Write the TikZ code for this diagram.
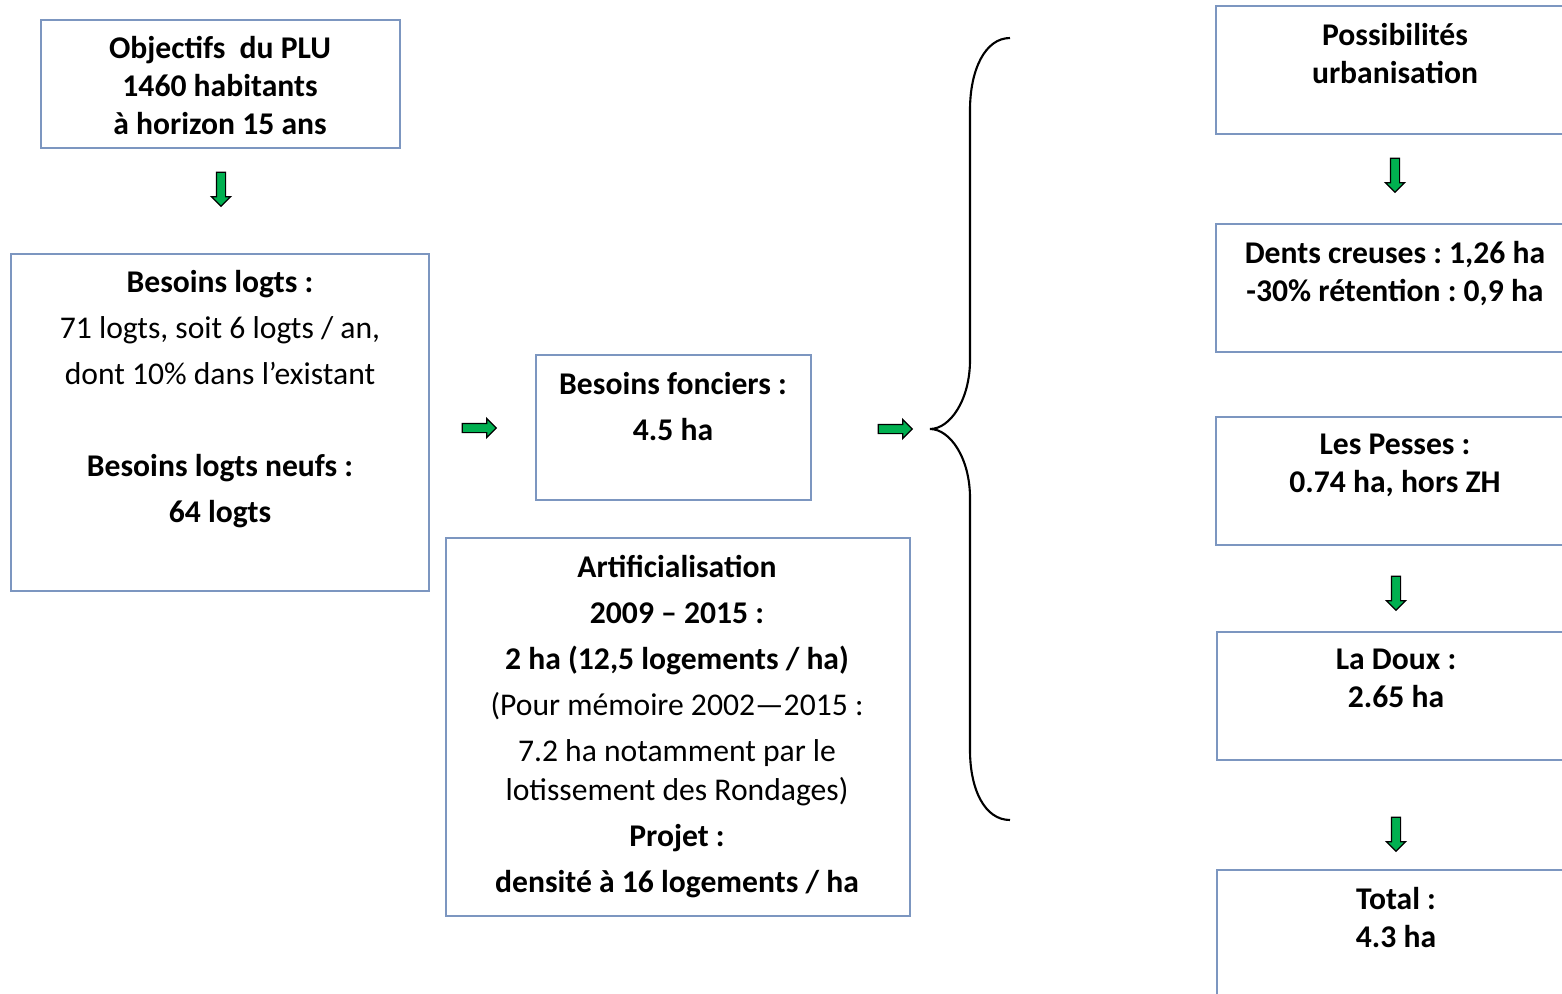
\documentclass[tikz,border=0pt]{standalone}
\usepackage{fontspec}
\setmainfont{Carlito}
\frenchspacing
\usetikzlibrary{shapes.arrows}
\definecolor{boxblue}{RGB}{124,150,192}
\definecolor{arrowgreen}{RGB}{0,176,80}
\tikzset{
  box/.style={draw=boxblue, line width=1.1pt},
  tight/.style={anchor=north, inner sep=0pt, align=center, font=\fontsize{18}{21.6}\selectfont},
  loose/.style={anchor=north, inner sep=0pt, align=center, font=\fontsize{18}{26.2}\selectfont},
  greenarrow/.style={single arrow, draw=black, fill=arrowgreen, line width=0.7pt,
    minimum height=0.68cm, inner xsep=0pt, inner ysep=0.08cm,
    single arrow head extend=0.1cm},
}
\begin{document}
\begin{tikzpicture}[x=0.02cm, y=-0.02cm]
				\useasboundingbox (0,0) rectangle (1562,994);
				\clip (0,0) rectangle (1562,994);

				% Left column
				\draw[box] (41,20) rectangle (400,148);
				\node[tight] (objectifs) at (220,36) {\bfseries Objectifs\ \ du PLU\\ \bfseries 1460 habitants\\ \bfseries à horizon 15 ans};
				\node[greenarrow, rotate=-90] (fleche1) at (221,187) {};

				\draw[box] (11,254) rectangle (429,591);
				\node[loose] (logts) at (220,270) {\bfseries Besoins logts :\\ 71 logts, soit 6 logts / an,\\ dont 10\% dans l’existant\\[26.2pt] \bfseries Besoins logts neufs :\\ \bfseries 64 logts};
				\node[greenarrow] (fleche2) at (477,428) {};

				% Middle column
				\draw[box] (536,355) rectangle (811,500);
				\node[loose] (fonciers) at (673,372) {\bfseries Besoins fonciers :\\ \bfseries 4.5 ha};
				\node[greenarrow] (fleche3) at (893,429) {};

				\draw[box] (446,538) rectangle (910,916);
				\node[loose] (artif) at (677,555) {\bfseries Artificialisation\\ \bfseries 2009 – 2015 :\\ \bfseries 2 ha (12,5 logements / ha)\\ (Pour mémoire 2002—2015 :\\ 7.2 ha notamment par le\\[-4pt] lotissement des Rondages)\\ \bfseries Projet :\\ \bfseries densité à 16 logements / ha};

				% Brace
				\draw[line width=1.2pt] (1010,38) .. controls (985,38) and (970,70) .. (970,110)
				  -- (970,360) .. controls (970,400) and (950,429) .. (930,429)
				  .. controls (950,429) and (970,458) .. (970,498)
				  -- (970,750) .. controls (970,790) and (985,820) .. (1010,820);

				% Right column
				\draw[box] (1216,6) rectangle (1575,134);
				\node[tight] (possib) at (1395,23) {\bfseries Possibilités\\ \bfseries urbanisation};
				\node[greenarrow, rotate=-90] (fleche4) at (1395,173) {};

				\draw[box] (1216,224) rectangle (1575,352);
				\node[tight] (dents) at (1395,241) {\bfseries Dents creuses : 1,26 ha\\ \bfseries -30\% rétention : 0,9 ha};

				\draw[box] (1216,417) rectangle (1575,545);
				\node[tight] (pesses) at (1395,434) {\bfseries Les Pesses :\\ \bfseries 0.74 ha, hors ZH};
				\node[greenarrow, rotate=-90] (fleche5) at (1396,591) {};

				\draw[box] (1217,632) rectangle (1576,760);
				\node[tight] (doux) at (1396,649) {\bfseries La Doux :\\ \bfseries 2.65 ha};
				\node[greenarrow, rotate=-90] (fleche6) at (1396,832) {};

				\draw[box] (1217,870) rectangle (1576,998);
				\node[tight] (total) at (1396,887) {\bfseries Total :\\ \bfseries 4.3 ha};
\end{tikzpicture}
\end{document}
